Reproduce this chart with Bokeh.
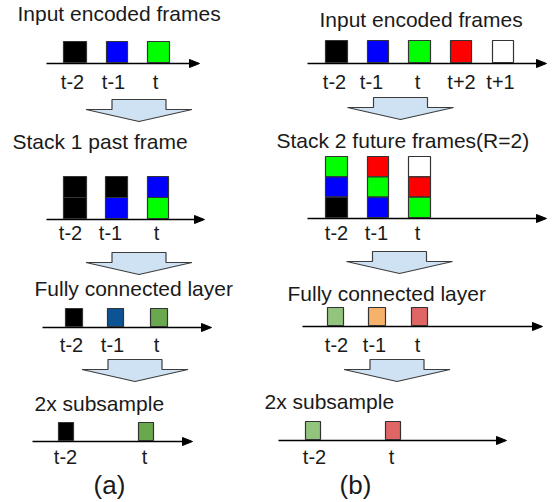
from bokeh.plotting import figure
from bokeh.models import Range1d
from bokeh.core.properties import value
from bokeh.embed import file_html
from bokeh.resources import INLINE

# ---------------- data ----------------
a_titles = ["Input encoded frames", "Stack 1 past frame", "Fully connected layer", "2x subsample"]
b_titles = ["Input encoded frames", "Stack 2 future frames(R=2)", "Fully connected layer", "2x subsample"]

a_input_labels = ["t-2", "t-1", "t"]
a_input_colors = ["#000000", "#0000ff", "#00ff00"]
a_stack_labels = ["t-2", "t-1", "t"]
a_stack_colors = [["#000000", "#000000"], ["#000000", "#0000ff"], ["#0000ff", "#00ff00"]]  # top -> bottom
a_fc_labels = ["t-2", "t-1", "t"]
a_fc_colors = ["#000000", "#0b5394", "#6aa84f"]
a_sub_labels = ["t-2", "t"]
a_sub_colors = ["#000000", "#6aa84f"]

b_input_labels = ["t-2", "t-1", "t", "t+2", "t+1"]
b_input_colors = ["#000000", "#0000ff", "#00ff00", "#ff0000", "#ffffff"]
b_stack_labels = ["t-2", "t-1", "t"]
b_stack_colors = [["#00ff00", "#0000ff", "#000000"],
                  ["#ff0000", "#00ff00", "#0000ff"],
                  ["#ffffff", "#ff0000", "#00ff00"]]  # top -> bottom
b_fc_labels = ["t-2", "t-1", "t"]
b_fc_colors = ["#93c47d", "#f6b26b", "#e06666"]
b_sub_labels = ["t-2", "t"]
b_sub_colors = ["#93c47d", "#e06666"]

panel_names = ["(a)", "(b)"]

# ---------------- layout (pixel coordinates of the diagram) ----------------
rows_a = [
    dict(tx=18, ty=21, ax0=47, ax1=200, ay=64, top=42, boxes=[(64, 87), (107, 128), (148, 170)],
         lx=[73, 114, 156], ly=88),
    dict(tx=13, ty=149, ax0=47, ax1=205, ay=220, top=177, boxes=[(64, 87), (106, 128), (148, 169)],
         lx=[71, 111, 157], ly=239),
    dict(tx=35, ty=296, ax0=43, ax1=212, ay=328, top=309, boxes=[(66, 83), (108, 124), (151, 168)],
         lx=[72, 113, 157], ly=351),
    dict(tx=35, ty=411, ax0=33, ax1=193, ay=442, top=423, boxes=[(59, 74), (139, 154)],
         lx=[66, 145], ly=463),
]
rows_b = [
    dict(tx=320, ty=27, ax0=308, ax1=547, ay=64, top=41,
         boxes=[(326, 348), (368, 389), (409, 431), (451, 472), (493, 514)],
         lx=[335, 372, 418, 462, 501], ly=88),
    dict(tx=277, ty=148, ax0=308, ax1=547, ay=219, top=157, boxes=[(326, 348), (368, 389), (409, 431)],
         lx=[337, 377, 418], ly=239),
    dict(tx=288, ty=301, ax0=303, ax1=543, ay=327, top=308, boxes=[(328, 344), (369, 386), (412, 428)],
         lx=[337, 375, 418], ly=351),
    dict(tx=265, ty=409, ax0=279, ax1=507, ay=441, top=422, boxes=[(306, 321), (386, 401)],
         lx=[315, 392], ly=463),
]
# big down arrows: (center x, top y)
arrows = [(139.5, 100), (139.5, 253), (135.5, 360), (401, 98), (400, 252), (397.5, 360)]
panel_pos = [(110, 485), (356, 485)]
TITLE_DY = -7
LABEL_DY = -6

FONT = value("Liberation Sans")

p = figure(width=553, height=500, output_backend="svg", toolbar_location=None,
           x_range=Range1d(1, 554), y_range=Range1d(501, 1),
           min_border=0, outline_line_color=None, background_fill_color="white")
p.axis.visible = False
p.grid.visible = False

ql, qr, qt, qb, qc = [], [], [], [], []
tri_x, tri_y = [], []
seg = dict(x0=[], y0=[], x1=[], y1=[])
title_x, title_y, title_t = [], [], []
lab_x, lab_y, lab_t = [], [], []


def add_row(layout, title, labels, stacks):
    title_x.append(layout["tx"]); title_y.append(layout["ty"] + TITLE_DY); title_t.append(title)
    ay = layout["ay"]
    seg["x0"].append(layout["ax0"]); seg["x1"].append(layout["ax1"] - 8)
    seg["y0"].append(ay); seg["y1"].append(ay)
    tri_x.append([layout["ax1"] - 10, layout["ax1"], layout["ax1"] - 10])
    tri_y.append([ay - 4, ay, ay + 4])
    bottom = ay - 1
    for (l, r), cells in zip(layout["boxes"], stacks):
        n = len(cells)
        h = (bottom - layout["top"]) / n
        for i, c in enumerate(cells):
            ql.append(l); qr.append(r)
            qt.append(layout["top"] + i * h); qb.append(layout["top"] + (i + 1) * h)
            qc.append(c)
    for x, t in zip(layout["lx"], labels):
        lab_x.append(x); lab_y.append(layout["ly"] + LABEL_DY); lab_t.append(t)


add_row(rows_a[0], a_titles[0], a_input_labels, [[c] for c in a_input_colors])
add_row(rows_a[1], a_titles[1], a_stack_labels, a_stack_colors)
add_row(rows_a[2], a_titles[2], a_fc_labels, [[c] for c in a_fc_colors])
add_row(rows_a[3], a_titles[3], a_sub_labels, [[c] for c in a_sub_colors])
add_row(rows_b[0], b_titles[0], b_input_labels, [[c] for c in b_input_colors])
add_row(rows_b[1], b_titles[1], b_stack_labels, b_stack_colors)
add_row(rows_b[2], b_titles[2], b_fc_labels, [[c] for c in b_fc_colors])
add_row(rows_b[3], b_titles[3], b_sub_labels, [[c] for c in b_sub_colors])

# down arrows
arr_x, arr_y = [], []
for cx, ty in arrows:
    rw, ww, rh, th = 27, 53, 10, 22
    arr_x.append([cx - rw, cx + rw, cx + rw, cx + ww, cx, cx - ww, cx - rw])
    arr_y.append([ty, ty, ty + rh, ty + rh, ty + th, ty + rh, ty + rh])
p.patches(arr_x, arr_y, fill_color="#cfe2f3", line_color="#3d3d3d", line_width=1.2)

# axes
p.segment(x0=seg["x0"], y0=seg["y0"], x1=seg["x1"], y1=seg["y1"], line_color="black", line_width=1.6)
p.patches(tri_x, tri_y, fill_color="black", line_color="black", line_width=1)

# frames
p.quad(left=ql, right=qr, top=qt, bottom=qb, fill_color=qc, line_color="#333333", line_width=1.2)

# texts
p.text(x=title_x, y=title_y, text=title_t, text_font=FONT, text_font_size="21px",
       text_align="left", text_baseline="alphabetic", text_color="#1a1a1a")
p.text(x=lab_x, y=lab_y, text=lab_t, text_font=FONT, text_font_size="20px",
       text_align="center", text_baseline="alphabetic", text_color="#1a1a1a")
p.text(x=[q[0] for q in panel_pos], y=[q[1] for q in panel_pos], text=panel_names, text_font=FONT,
       text_font_size="26px", text_align="center", text_baseline="alphabetic", text_color="#1a1a1a")

open("out.html", "w").write(file_html(p, INLINE))
